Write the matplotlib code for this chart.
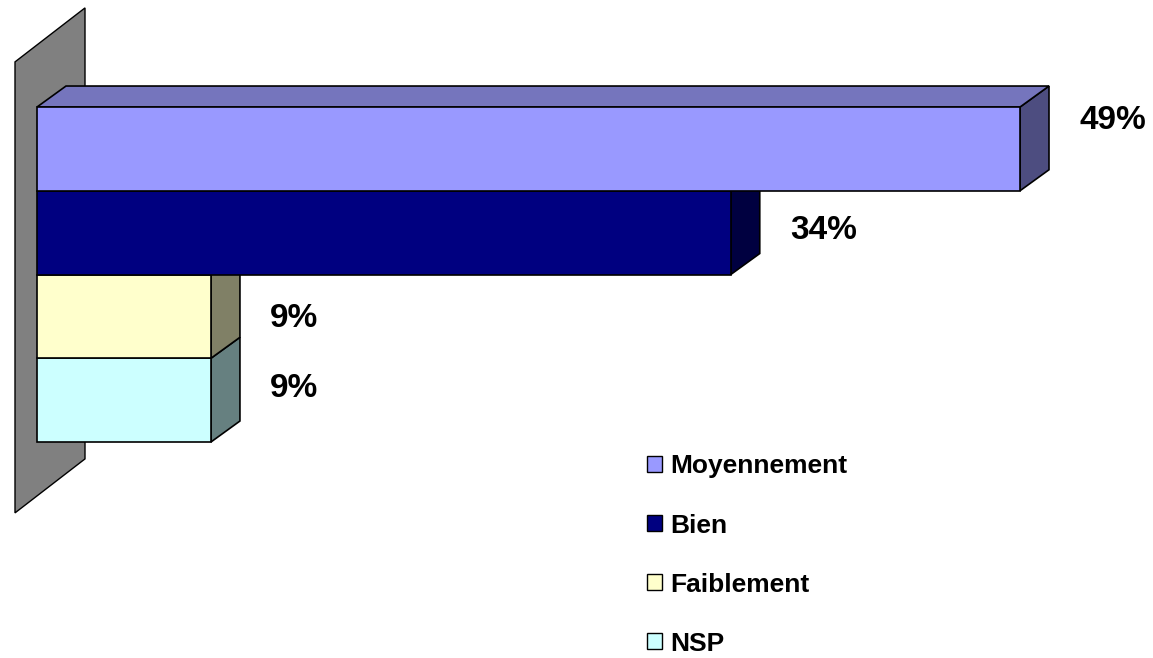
import matplotlib
matplotlib.use("Agg")
import matplotlib.pyplot as plt
from matplotlib.patches import Polygon, Patch

# data
categories = ['Moyennement', 'Bien', 'Faiblement', 'NSP']
values = [48.6, 34.3, 8.6, 8.6]

front_colors = ['#9999FF', '#000080', '#FFFFCC', '#CCFFFF']
side_colors = ['#4D4D80', '#000040', '#808066', '#668080']
top_color = '#7575BD'
wall_color = '#808080'

# layout (data units)
px_per_pct = 983 / 48.6
px_per_row = 83.75
depth_x = 29 / px_per_pct
depth_y = -21 / px_per_row
label_gap = 30 / px_per_pct
label_dy = [-28 / px_per_row, -2 / px_per_row, 2 / px_per_row, -12 / px_per_row]

plt.rcParams['font.family'] = ['Liberation Sans', 'DejaVu Sans']

fig = plt.figure(figsize=(11.53, 6.58), dpi=100)
ax = fig.add_axes([0, 0, 1, 1])
ax.set_xlim(-37 / px_per_pct, (1153 - 37) / px_per_pct)
ax.set_ylim((658 - 148.9) / px_per_row, -148.9 / px_per_row)
ax.axis('off')

# back wall
wx0, wdx = -22 / px_per_pct, 70 / px_per_pct
wtop, wbot, wdy = -87 / px_per_row, 364 / px_per_row, -54 / px_per_row
ax.add_patch(Polygon([(wx0, wtop), (wx0 + wdx, wtop + wdy), (wx0 + wdx, wbot + wdy), (wx0, wbot)],
                     closed=True, facecolor=wall_color, edgecolor='black', lw=1.0, zorder=1))

lw = 1.2
n = len(values)
for i in range(n - 1, -1, -1):
    v = values[i]
    y0, y1 = i - 0.5, i + 0.5
    z = 2 + (n - i)
    ax.barh(i, v, height=1.0, left=0, color=front_colors[i], edgecolor='black', lw=lw, zorder=z + 0.5)
    side = [(v, y0), (v + depth_x, y0 + depth_y), (v + depth_x, y1 + depth_y), (v, y1)]
    ax.add_patch(Polygon(side, closed=True, facecolor=side_colors[i], edgecolor='black', lw=lw, zorder=z))
    if i == 0:
        top = [(0, y0), (depth_x, y0 + depth_y), (v + depth_x, y0 + depth_y), (v, y0)]
        ax.add_patch(Polygon(top, closed=True, facecolor=top_color, edgecolor='black', lw=lw, zorder=z))
    ax.text(v + depth_x + label_gap, i + label_dy[i], '{:.0f}%'.format(v),
            ha='left', va='center', fontsize=24, fontweight='bold', zorder=10)

handles = [Patch(facecolor=c, edgecolor='black', lw=1.0) for c in front_colors]
fig.legend(handles, categories, loc='upper left', bbox_to_anchor=(629 / 1153, 1 - 436 / 658),
           frameon=False, prop={'size': 19, 'weight': 'bold'},
           handlelength=0.55, handleheight=0.55, handletextpad=0.3, labelspacing=1.33,
           borderpad=0.2)

fig.savefig('out.png', dpi=100)
